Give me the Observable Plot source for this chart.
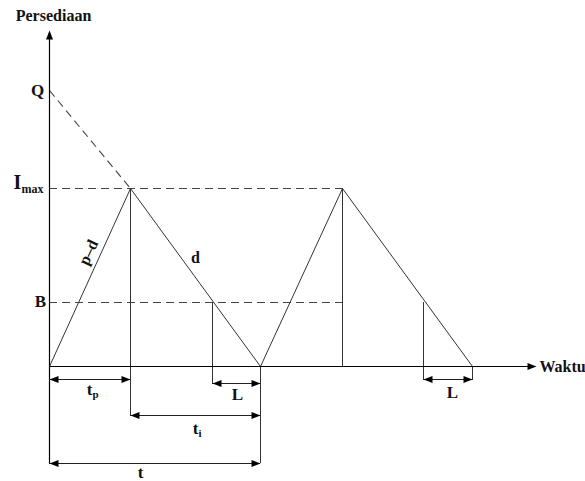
<!DOCTYPE html>
<html>
<head>
<meta charset="utf-8">
<script src="https://cdn.jsdelivr.net/npm/d3@7"></script>
<script src="https://cdn.jsdelivr.net/npm/@observablehq/plot@0.6"></script>
<style>
  html, body { margin: 0; padding: 0; background: #fff; }
  #chart { width: 585px; height: 481px; overflow: hidden; }
</style>
</head>
<body>
<div id="chart"></div>
<script>
// ---- data (time units on x, inventory units on y) ----
const profileTime = [0, 81, 211, 293, 423];
const profileLevel = [0, 178, 0, 178, 0];

const levelNames = ["Q", "I", "B"];
const levelSubs = ["", "max", ""];
const levelValues = [276, 178, 64];
const levelLabelTime = [-12, -32, -9];
const levelLabelLevel = [276, 184, 65];

const dashEndTime = 293;          // dashed Imax and B lines end here

const dropTime = [81, 163, 211, 293, 374, 423];
const dropTop = [178, 64, 0, 178, 64, 0];
const dropBottom = [-49, -17, -97, 0, -14, -14];

const dimNames = ["t", "L", "t", "t", "L"];
const dimSubs = ["p", "", "i", "", ""];
const dimStart = [0, 163, 81, 0, 374];
const dimEnd = [81, 211, 211, 211, 423];
const dimLevel = [-13, -17, -49, -97, -13];
const dimLabelTime = [40, 188, 146, 91, 403];
const dimLabelLevel = [-23, -28, -62, -106, -26];

const slopeLabels = ["p\u2013d", "d"];
const slopeLabelTime = [39, 146];
const slopeLabelLevel = [114, 109];
const slopeLabelRotate = [-65, 0];

const axisTop = 336, axisBottom = -97, axisEnd = 487;
const yAxisTitle = "Persediaan", xAxisTitle = "Waktu";

// ---- tables ----
const profile = profileTime.map((t, i) => ({t, v: profileLevel[i]}));
const levels = levelNames.map((n, i) => ({n, s: levelSubs[i], v: levelValues[i],
  lt: levelLabelTime[i], lv: levelLabelLevel[i]}));
const drops = dropTime.map((t, i) => ({t, top: dropTop[i], bottom: dropBottom[i]}));
const dims = dimNames.map((n, i) => ({n, s: dimSubs[i], a: dimStart[i], b: dimEnd[i], v: dimLevel[i],
  lt: dimLabelTime[i], lv: dimLabelLevel[i]}));
const slopes = slopeLabels.map((n, i) => ({n, t: slopeLabelTime[i], v: slopeLabelLevel[i], r: slopeLabelRotate[i]}));

// arrowhead symbols (tip at the origin)
const headRight = {draw(c) { c.moveTo(0, 0); c.lineTo(-9, -3.5); c.lineTo(-9, 3.5); c.closePath(); }};
const headLeft = {draw(c) { c.moveTo(0, 0); c.lineTo(9, -3.5); c.lineTo(9, 3.5); c.closePath(); }};
const headUp = {draw(c) { c.moveTo(0, 0); c.lineTo(-3.5, 9); c.lineTo(3.5, 9); c.closePath(); }};

const font = "'Liberation Serif', 'Times New Roman', serif";
const lineColor = "#333";
const dashColor = "#444";

const chart = Plot.plot({
  width: 585,
  height: 481,
  margin: 0,
  x: {domain: [-49, 536], axis: null},
  y: {domain: [-115, 366], axis: null},
  style: {background: "#fff", fontFamily: font},
  marks: [
    // dashed reference lines
    Plot.link([0], {x1: 0, y1: levelValues[0], x2: profileTime[1], y2: profileLevel[1],
      stroke: dashColor, strokeWidth: 1.1, strokeDasharray: "8,5"}),
    Plot.ruleY(levels.slice(1), {y: "v", x1: 0, x2: dashEndTime,
      stroke: dashColor, strokeWidth: 1.1, strokeDasharray: "8,5"}),
    // vertical drop lines
    Plot.ruleX(drops, {x: "t", y1: "top", y2: "bottom", stroke: lineColor, strokeWidth: 1}),
    // inventory profile
    Plot.line(profile, {x: "t", y: "v", stroke: lineColor, strokeWidth: 1}),
    // axes
    Plot.ruleX([0], {x: 0, y1: axisBottom, y2: axisTop - 4, stroke: "#000", strokeWidth: 1.2}),
    Plot.ruleY([0], {y: 0, x1: 0, x2: axisEnd - 4, stroke: "#000", strokeWidth: 1.2}),
    Plot.dot([0], {x: 0, y: axisTop, symbol: headUp, r: 5, fill: "#000", stroke: null}),
    Plot.dot([0], {x: axisEnd, y: 0, symbol: headRight, r: 5, fill: "#000", stroke: null}),
    // dimension arrows
    Plot.ruleY(dims, {y: "v", x1: "a", x2: "b", stroke: "#222", strokeWidth: 1.2}),
    Plot.dot(dims, {x: "a", y: "v", symbol: headLeft, r: 5, fill: "#000", stroke: null}),
    Plot.dot(dims, {x: "b", y: "v", symbol: headRight, r: 5, fill: "#000", stroke: null}),
    Plot.text(dims, {x: "lt", y: "lv", text: "n", fontSize: 17, fontWeight: "bold", fill: "#111"}),
    Plot.text(dims.filter(d => d.s), {x: "lt", y: "lv", text: "s", dx: 3, dy: 5, textAnchor: "start",
      fontSize: 11, fontWeight: "bold", fill: "#111"}),
    // level labels on the y axis
    Plot.text(levels.filter(d => !d.s), {x: "lt", y: "lv", text: "n", fontSize: 17, fontWeight: "bold", fill: "#111"}),
    Plot.text(levels.filter(d => d.s), {x: "lt", y: "lv", text: "n", fontSize: 20, fontWeight: "bold", fill: "#111"}),
    Plot.text(levels.filter(d => d.s), {x: "lt", y: "lv", text: "s", dx: 4, dy: 7, textAnchor: "start",
      fontSize: 12, fontWeight: "bold", fill: "#111"}),
    // slope labels
    Plot.text(slopes, {x: "t", y: "v", text: "n", rotate: "r", fontSize: 16, fontWeight: "bold", fill: "#111"}),
    // axis titles
    Plot.text([yAxisTitle], {x: 4, y: 351, text: d => d, fontSize: 16, fontWeight: "bold", fill: "#111"}),
    Plot.text([xAxisTitle], {x: 490, y: 0, text: d => d, textAnchor: "start", fontSize: 16,
      fontWeight: "bold", fill: "#111"})
  ]
});
document.getElementById("chart").appendChild(chart);
</script>
</body>
</html>
